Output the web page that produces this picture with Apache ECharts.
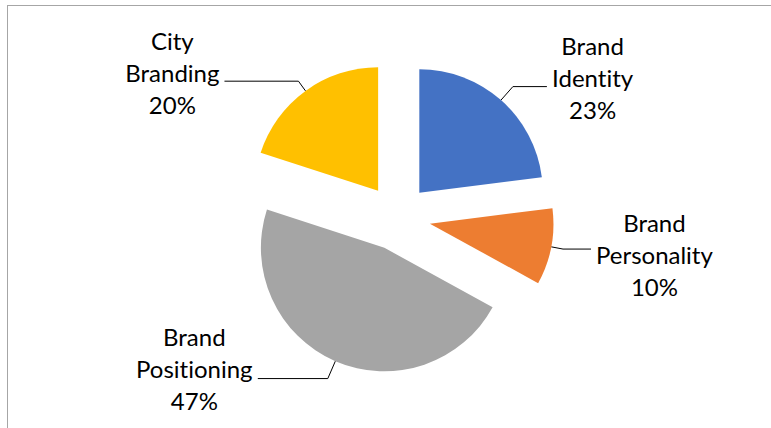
<!DOCTYPE html>
<html><head><meta charset="utf-8">
<script src="https://cdn.jsdelivr.net/npm/echarts@6.0.0/dist/echarts.min.js"></script>
<style>
html,body{margin:0;padding:0;background:#fff;overflow:hidden}
#frame{position:absolute;left:7px;top:5px;width:900px;height:600px;border-left:1px solid #a6a6a6;border-top:1px solid #a6a6a6;box-sizing:border-box}
#chart{position:absolute;left:0;top:0;width:771px;height:428px}
#chart text{font-variant-ligatures:none;font-feature-settings:"liga" 0,"clig" 0,"dlig" 0}
</style></head>
<body><div id="frame"></div><div id="chart"></div>
<script>
const categories = ['Brand Identity', 'Brand Personality', 'Brand Positioning', 'City Branding'];
const values = [23, 10, 47, 20];
const colors = ['#4472C4', '#ED7D31', '#A5A5A5', '#FFC000'];
const leadLen = [18, 12, 19, 12];
const leadLen2 = [34, 28, 70, 74];
const labelPad = [[0,0,18,0],[10,0,0,0],[0,0,20,0],[0,0,18,0]];

const FONT = 'Lato';
const chart = echarts.init(document.getElementById('chart'), null, {renderer: 'svg'});
const data = categories.map((name, i) => ({
  name: name,
  value: values[i],
  selected: true,
  itemStyle: {color: colors[i]},
  label: {padding: labelPad[i]},
  labelLine: {length: leadLen[i], length2: leadLen2[i]}
}));
chart.setOption({
  animation: false,
  series: [{
    type: 'pie',
    center: [397.5, 217.5],
    radius: 123.5,
    startAngle: 90,
    clockwise: true,
    selectedMode: 'multiple',
    selectedOffset: 33,
    avoidLabelOverlap: false,
    emphasis: {disabled: true},
    label: {
      show: true,
      position: 'outside',
      distanceToLabelLine: 5,
      fontFamily: FONT,
      fontSize: 24,
      lineHeight: 32,
      color: '#000',
      formatter: function (p) {
        return p.name.split(' ').map(s => '{c|' + s + '}').join('\n') + '\n{c|' + Math.round(p.percent) + '%}';
      },
      rich: {c: {align: 'center', fontFamily: FONT, fontSize: 24, lineHeight: 32, color: '#000'}}
    },
    labelLine: {show: true, lineStyle: {color: '#000', width: 1}},
    data: data
  }]
});
</script>
</body></html>
